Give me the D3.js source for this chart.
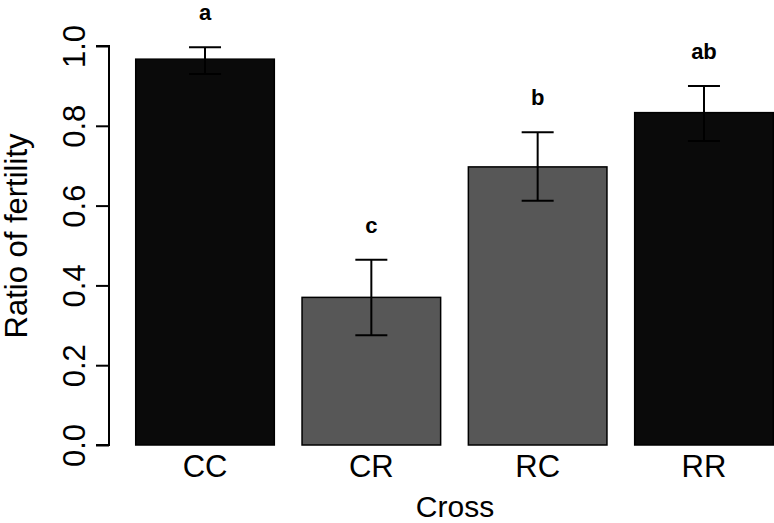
<!DOCTYPE html>
<html>
<head>
<meta charset="utf-8">
<script src="https://cdn.jsdelivr.net/npm/d3@7"></script>
<style>
  body { margin: 0; background: #fff; }
  svg { display: block; font-family: "Liberation Sans", Arial, sans-serif; }
</style>
</head>
<body>
<div id="svg-container"></div>
<script>
// data
const crosses = ["CC", "CR", "RC", "RR"];
const ratio = [0.967, 0.370, 0.697, 0.833];
const lower = [0.930, 0.275, 0.612, 0.762];
const upper = [0.997, 0.464, 0.784, 0.900];
const groups = ["a", "c", "b", "ab"];
const yTicks = [0, 0.2, 0.4, 0.6, 0.8, 1.0];

const width = 774, height = 523;

const svg = d3.select("#svg-container").append("svg")
  .attr("width", width).attr("height", height);

// scales
const xScale = d3.scaleBand()
  .domain(crosses)
  .range([108, 801])
  .paddingInner(1 / 6)
  .paddingOuter(1 / 6);

const yScale = d3.scaleLinear().domain([0, 1]).range([445, 46]);

const fill = d3.scaleOrdinal().domain(crosses)
  .range(["#0a0a0a", "#575757", "#575757", "#0a0a0a"]);

const data = crosses.map((c, i) => ({
  cross: c, value: ratio[i], lo: lower[i], hi: upper[i], group: groups[i]
}));

// bars
svg.append("g").selectAll("rect")
  .data(data)
  .join("rect")
  .attr("x", d => xScale(d.cross))
  .attr("y", d => yScale(d.value))
  .attr("width", xScale.bandwidth())
  .attr("height", d => yScale(0) - yScale(d.value))
  .attr("fill", d => fill(d.cross))
  .attr("stroke", "#000")
  .attr("stroke-width", 1.5);

// error bars
const cap = 16;
const err = svg.append("g")
  .attr("stroke", "#000")
  .attr("stroke-width", 2)
  .selectAll("g")
  .data(data)
  .join("g")
  .attr("transform", d => `translate(${xScale(d.cross) + xScale.bandwidth() / 2},0)`);

err.append("line")
  .attr("y1", d => yScale(d.lo)).attr("y2", d => yScale(d.hi));
err.append("line")
  .attr("x1", -cap).attr("x2", cap)
  .attr("y1", d => yScale(d.hi)).attr("y2", d => yScale(d.hi));
err.append("line")
  .attr("x1", -cap).attr("x2", cap)
  .attr("y1", d => yScale(d.lo)).attr("y2", d => yScale(d.lo));

// significance letters
svg.append("g").selectAll("text")
  .data(data)
  .join("text")
  .attr("x", d => xScale(d.cross) + xScale.bandwidth() / 2)
  .attr("y", d => yScale(d.hi) - 27)
  .attr("text-anchor", "middle")
  .attr("font-weight", "bold")
  .attr("font-size", 22)
  .text(d => d.group);

// y axis
const yAxis = d3.axisLeft(yScale)
  .tickValues(yTicks)
  .tickSize(13)
  .tickFormat(d3.format(".1f"));

const gy = svg.append("g")
  .attr("transform", "translate(109,0)")
  .call(yAxis);

gy.select(".domain").attr("d", `M-13,${yScale(1)}H0V${yScale(0)}H-13`).attr("stroke-width", 2);
gy.selectAll(".tick line").attr("stroke-width", 2);
gy.selectAll(".tick text")
  .attr("font-size", 31)
  .attr("font-family", "Liberation Sans, Arial, sans-serif")
  .attr("fill", "#000")
  .attr("x", null).attr("dy", null)
  .attr("text-anchor", "middle")
  .attr("transform", "translate(-24,0) rotate(-90)");

// x labels
svg.append("g").selectAll("text")
  .data(crosses)
  .join("text")
  .attr("x", d => xScale(d) + xScale.bandwidth() / 2)
  .attr("y", 477)
  .attr("text-anchor", "middle")
  .attr("font-size", 31)
  .text(d => d);

// axis titles
svg.append("text")
  .attr("x", 455).attr("y", 517)
  .attr("text-anchor", "middle")
  .attr("font-size", 30)
  .text("Cross");

svg.append("text")
  .attr("transform", "translate(27,236) rotate(-90)")
  .attr("text-anchor", "middle")
  .attr("font-size", 31)
  .text("Ratio of fertility");
</script>
</body>
</html>
